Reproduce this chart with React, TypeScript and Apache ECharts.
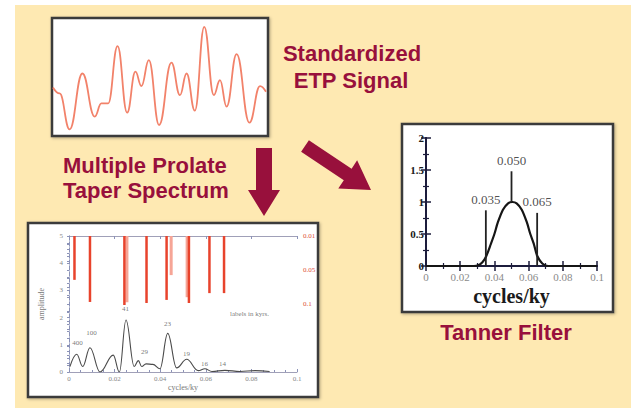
import React, { useEffect, useRef } from 'react';
import * as echarts from 'echarts';

// Standardized ETP signal (time index 0..100, standardized units)
const signalT = [0, 3.1, 7.8, 13.8, 19.6, 22.7, 25.9, 30.3, 34.8, 38.7, 41.5, 45.0, 49.8, 55.6, 59.6, 62.7, 66.6, 71.0, 75.5, 78.4, 81.5, 86.2, 92.2, 97.2, 100];
const signalV = [0.13, -0.17, -1.97, 0.83, -1.33, -0.67, -0.67, 2.2, -1.13, 0.92, 0.2, 1.5, -1.75, 1.37, -0.25, 0.83, -1.03, 3.17, -0.25, 0.5, -0.83, 1.8, -1.63, 0.2, -0.08];

// Multitaper amplitude spectrum
const specFreq = [0.0004, 0.0034, 0.006, 0.0092, 0.0136, 0.0194, 0.0221, 0.025, 0.0286, 0.0304, 0.0319, 0.0338, 0.0368, 0.0399, 0.0433, 0.0472, 0.0516, 0.0567, 0.0596, 0.0627, 0.0684, 0.075, 0.0816, 0.088];
const specAmp = [0.2, 0.65, 0.2, 0.89, 0.0, 0.62, 0.0, 1.91, 0.2, 0.42, 0.2, 0.3, 0.28, 0.12, 1.42, 0.15, 0.47, 0.05, 0.12, 0.02, 0.06, 0.02, 0.05, 0.02];

// Significance spikes (right axis units, hanging from top)
const spikeFreq = [0.0024, 0.0092, 0.0243, 0.034, 0.0428, 0.0526, 0.0616, 0.068];
const spikeDepth = [1.29, 1.94, 2.03, 1.97, 1.88, 1.97, 1.68, 1.68];
const faintSpikeFreq = [0.0253, 0.0447, 0.0517];
const faintSpikeDepth = [1.95, 1.15, 1.8];
const sigTickLabels: Record<number, string> = { 0: '0.01', 1: '0.05', 2: '0.1' };

// Peak labels (kyr)
const peakText = ['400', '100', '41', '29', '23', '19', '16', '14', 'labels in kyrs.'];
const peakFreq = [0.0039, 0.0101, 0.025, 0.0333, 0.0434, 0.0518, 0.0596, 0.0675, 0.0794];
const peakAmp = [1.03, 1.43, 2.28, 0.7, 1.73, 0.63, 0.29, 0.29, 2.1];

// Tanner filter
const tannerFreq = [0, 0.028, 0.0305, 0.033, 0.035, 0.038, 0.040, 0.042, 0.045, 0.048, 0.0505, 0.053, 0.056, 0.059, 0.061, 0.063, 0.065, 0.068, 0.0715, 0.1];
const tannerGain = [0, 0, 0.01, 0.06, 0.14, 0.35, 0.5, 0.68, 0.88, 0.98, 1.0, 0.98, 0.88, 0.68, 0.5, 0.35, 0.16, 0.04, 0, 0];
const markerFreq = [0.035, 0.05, 0.065];
const markerLow = [0, 1.0, 0];
const markerHigh = [0.87, 1.48, 0.83];
const markerText = ['0.035', '0.050', '0.065'];

const CRIMSON = '#98103C';
const SERIF = '"Liberation Serif", "DejaVu Serif", serif';
const SANS = '"Liberation Sans", Arial, sans-serif';

function arrowPoints(tx: number, ty: number, px: number, py: number, shaftHalf: number, headHalf: number, headLen: number) {
  const len = Math.hypot(px - tx, py - ty);
  const dx = (px - tx) / len, dy = (py - ty) / len;
  const nx = -dy, ny = dx;
  const bx = px - headLen * dx, by = py - headLen * dy;
  return [
    [tx + shaftHalf * nx, ty + shaftHalf * ny],
    [bx + shaftHalf * nx, by + shaftHalf * ny],
    [bx + headHalf * nx, by + headHalf * ny],
    [px, py],
    [bx - headHalf * nx, by - headHalf * ny],
    [bx - shaftHalf * nx, by - shaftHalf * ny],
    [tx - shaftHalf * nx, ty - shaftHalf * ny],
  ];
}

export default function App() {
  const ref = useRef<HTMLDivElement>(null);
  useEffect(() => {
    const chart = echarts.init(ref.current!, null, { renderer: 'svg' });
    const heading = (text: string, x: number, y: number, align: string) => ({
      type: 'text', x, y, z: 10,
      style: { text, fill: CRIMSON, font: `bold 22px ${SANS}`, textAlign: align, textVerticalAlign: 'middle' },
    });
    const specAxisLine = { lineStyle: { color: '#8c93b8', width: 1, type: 'dashed' as const } };
    const boxStyle = { fill: '#ffffff', stroke: '#3a3a3a', lineWidth: 2.5, shadowBlur: 3, shadowColor: 'rgba(0,0,0,0.3)', shadowOffsetX: 1, shadowOffsetY: 1 };
    const option: any = {
      animation: false,
      backgroundColor: '#ffffff',
      graphic: [
        { type: 'rect', z: -10, shape: { x: 15, y: 5, width: 616, height: 403 }, style: { fill: '#FEE9B2' } },
        { type: 'rect', z: -9, shape: { x: 52, y: 18, width: 216, height: 118 }, style: boxStyle },
        { type: 'rect', z: -9, shape: { x: 28, y: 223, width: 290, height: 174 }, style: boxStyle },
        { type: 'rect', z: -9, shape: { x: 402, y: 124, width: 211, height: 188 }, style: boxStyle },
        { type: 'polygon', z: 5, shape: { points: arrowPoints(264, 148, 264, 216, 8, 16, 26) }, style: { fill: CRIMSON } },
        { type: 'polygon', z: 5, shape: { points: arrowPoints(305, 146, 371, 190, 7, 17, 28) }, style: { fill: CRIMSON } },
        heading('Standardized', 352, 53, 'center'),
        heading('ETP Signal', 351, 80, 'center'),
        heading('Multiple Prolate', 63, 165, 'left'),
        heading('Taper Spectrum', 63, 190, 'left'),
        heading('Tanner Filter', 506, 332, 'center'),
      ],
      grid: [
        { left: 53, top: 19, width: 213, height: 115, show: false },
        { left: 69, top: 236, width: 228, height: 136, show: false },
        { left: 426, top: 138, width: 171, height: 128, show: false },
      ],
      xAxis: [
        { gridIndex: 0, type: 'value', min: 0, max: 100, show: false },
        {
          gridIndex: 1, type: 'value', min: 0, max: 0.1, interval: 0.02, position: 'bottom',
          axisLine: { lineStyle: { color: '#a0a0b8', width: 1 } },
          axisTick: { inside: true, length: 3, lineStyle: { color: '#8c93b8' } },
          minorTick: { show: true, splitNumber: 4, length: 2, lineStyle: { color: '#8c93b8' } },
          splitLine: { show: false },
          axisLabel: { fontSize: 7, color: '#888', fontFamily: SERIF, margin: 3, formatter: (v: number) => (v === 0 ? '0' : v === 0.1 ? '0.1' : v.toFixed(2)) },
          name: 'cycles/ky', nameLocation: 'middle', nameGap: 11,
          nameTextStyle: { fontSize: 8, color: '#777', fontFamily: SERIF },
        },
        {
          gridIndex: 1, type: 'value', min: 0, max: 0.1, interval: 0.02, position: 'top',
          axisLine: { lineStyle: { color: '#a0a0b8', width: 1 } },
          axisTick: { inside: true, length: 3, lineStyle: { color: '#8c93b8' } },
          axisLabel: { show: false }, splitLine: { show: false },
        },
        {
          gridIndex: 2, type: 'value', min: 0, max: 0.1, interval: 0.02, position: 'bottom',
          axisLine: { lineStyle: { color: '#1c1c3c', width: 2 } },
          axisTick: { inside: true, length: 5, lineStyle: { color: '#1c1c3c', width: 1.5 } },
          minorTick: { show: true, splitNumber: 2, length: 3, lineStyle: { color: '#1c1c3c', width: 1.2 } },
          splitLine: { show: false },
          axisLabel: { fontSize: 11, color: '#8a8a8a', fontFamily: SERIF, margin: 5 },
          name: 'cycles/ky', nameLocation: 'middle', nameGap: 20,
          nameTextStyle: { fontSize: 20, color: '#1a1a1a', fontFamily: SERIF, fontWeight: 'bold' },
        },
        {
          gridIndex: 2, type: 'value', min: 0, max: 0.1, interval: 0.02, position: 'top',
          axisLine: { lineStyle: { color: '#1c1c3c', width: 2 } },
          axisTick: { inside: true, length: 5, lineStyle: { color: '#1c1c3c', width: 1.5 } },
          minorTick: { show: true, splitNumber: 2, length: 3, lineStyle: { color: '#1c1c3c', width: 1.2 } },
          axisLabel: { show: false }, splitLine: { show: false },
        },
      ],
      yAxis: [
        { gridIndex: 0, type: 'value', min: -2.2, max: 3.56, show: false },
        {
          gridIndex: 1, type: 'value', min: 0, max: 5, interval: 1, position: 'left',
          axisLine: { show: true, ...specAxisLine },
          axisTick: { show: true, length: 2, lineStyle: { color: '#8c93b8' } },
          minorTick: { show: true, splitNumber: 4, length: 2, lineStyle: { color: '#8c93b8' } },
          splitLine: { show: false },
          axisLabel: { fontSize: 7, color: '#888', fontFamily: SERIF, margin: 6 },
          name: 'amplitude', nameLocation: 'middle', nameGap: 24,
          nameTextStyle: { fontSize: 8, color: '#777', fontFamily: SERIF },
        },
        {
          gridIndex: 1, type: 'value', min: 0, max: 4, interval: 1, inverse: true, position: 'right',
          axisLine: { show: true, ...specAxisLine },
          axisTick: { show: true, inside: true, length: 2, lineStyle: { color: '#8c93b8' } },
          minorTick: { show: true, splitNumber: 4, length: 2, lineStyle: { color: '#8c93b8' } },
          splitLine: { show: false },
          axisLabel: { fontSize: 7, color: '#e0503a', fontFamily: SERIF, margin: 6, formatter: (v: number) => sigTickLabels[v] ?? '' },
        },
        {
          gridIndex: 2, type: 'value', min: 0, max: 2, interval: 0.5, position: 'left',
          axisLine: { show: true, lineStyle: { color: '#1c1c3c', width: 2 } },
          axisTick: { show: true, inside: true, length: 5, lineStyle: { color: '#1c1c3c', width: 1.5 } },
          minorTick: { show: true, splitNumber: 2, length: 3, lineStyle: { color: '#1c1c3c', width: 1.2 } },
          splitLine: { show: false },
          axisLabel: { fontSize: 11, color: '#1a1a1a', fontFamily: SERIF, fontWeight: 'bold', margin: 2 },
        },
        {
          gridIndex: 2, type: 'value', min: 0, max: 2, interval: 0.5, position: 'right',
          axisLine: { show: true, lineStyle: { color: '#1c1c3c', width: 2 } },
          axisTick: { show: true, inside: true, length: 5, lineStyle: { color: '#1c1c3c', width: 1.5 } },
          minorTick: { show: true, splitNumber: 2, length: 3, lineStyle: { color: '#1c1c3c', width: 1.2 } },
          axisLabel: { show: false }, splitLine: { show: false },
        },
      ],
      series: [
        {
          type: 'line', xAxisIndex: 0, yAxisIndex: 0, smooth: 0.45, smoothMonotone: 'x', symbol: 'none',
          data: signalT.map((t, i) => [t, signalV[i]]),
          lineStyle: { color: '#F2826A', width: 1.8 },
        },
        {
          type: 'bar', xAxisIndex: 1, yAxisIndex: 2, barWidth: 3, barGap: '-100%',
          data: faintSpikeFreq.map((f, i) => [f, faintSpikeDepth[i]]),
          itemStyle: { color: '#F6A596' },
        },
        {
          type: 'bar', xAxisIndex: 1, yAxisIndex: 2, barWidth: 2.5, barGap: '-100%',
          data: spikeFreq.map((f, i) => [f, spikeDepth[i]]),
          itemStyle: { color: '#E8432C' },
        },
        {
          type: 'line', xAxisIndex: 1, yAxisIndex: 1, smooth: 0.4, smoothMonotone: 'x', symbol: 'none',
          data: specFreq.map((f, i) => [f, specAmp[i]]),
          lineStyle: { color: '#4a4a4a', width: 1.1 },
        },
        {
          type: 'scatter', xAxisIndex: 1, yAxisIndex: 1, symbolSize: 1,
          itemStyle: { color: 'transparent' },
          data: peakFreq.map((f, i) => [f, peakAmp[i], peakText[i]]),
          label: {
            show: true, position: [0, 0], align: 'center', verticalAlign: 'middle',
            formatter: (p: any) => p.data[2], fontSize: 7, color: '#555', fontFamily: SERIF,
            textBorderWidth: 0, textBorderColor: 'transparent',
          },
        },
        {
          type: 'line', xAxisIndex: 3, yAxisIndex: 3, smooth: 0.3, symbol: 'none',
          data: tannerFreq.map((f, i) => [f, tannerGain[i]]),
          lineStyle: { color: '#151515', width: 2.2 },
        },
        ...markerFreq.map((f, i) => ({
          type: 'line', xAxisIndex: 3, yAxisIndex: 3, symbol: 'none',
          data: [[f, markerLow[i]], [f, markerHigh[i]]],
          lineStyle: { color: '#222', width: 1.8 },
        })),
        {
          type: 'scatter', xAxisIndex: 3, yAxisIndex: 3, symbolSize: 1,
          itemStyle: { color: 'transparent' },
          data: markerFreq.map((f, i) => [f, markerHigh[i], markerText[i]]),
          label: {
            show: true, position: 'top', distance: 4,
            formatter: (p: any) => p.data[2], fontSize: 13, color: '#222', fontFamily: SERIF,
          },
        },
      ],
    };
    chart.setOption(option);
    return () => chart.dispose();
  }, []);
  return <div ref={ref} style={{ position: 'fixed', left: 0, top: 0, width: 631, height: 408 }} />;
}
